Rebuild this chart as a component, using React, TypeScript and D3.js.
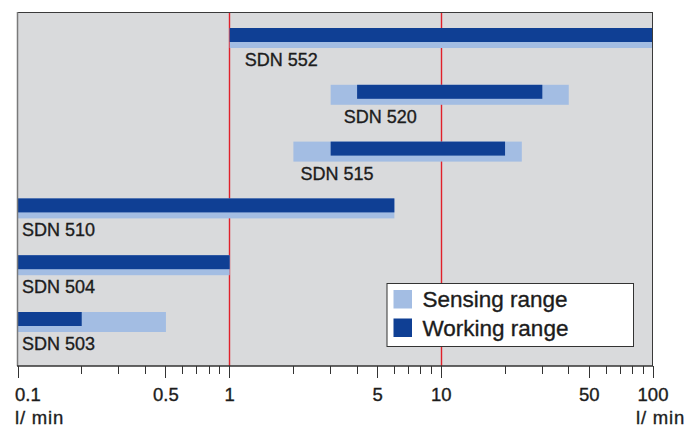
import React from 'react';
import * as d3 from 'd3';

// flow ranges per sensor model, l/min
const models = ['SDN 552', 'SDN 520', 'SDN 515', 'SDN 510', 'SDN 504', 'SDN 503'];
const sensingMin = [1, 3, 2, 0.1, 0.1, 0.1];
const sensingMax = [100, 40, 24, 6, 1, 0.5];
const workingMin = [1, 4, 3, 0.1, 0.1, 0.1];
const workingMax = [100, 30, 20, 6, 1, 0.2];

const tickLabels = [0.1, 0.5, 1, 5, 10, 50, 100];
const refLines = [1, 10];
const unitLabel = 'l/ min';
const legendItems = ['Sensing range', 'Working range'];

const W = 700;
const H = 428;
const left = 18;
const right = 653;
const top = 12;
const bottom = 366;

const LIGHT = '#a3bde3';
const DARK = '#0f3f94';
const INK = '#1c1c1c';
const FONT = '"Liberation Sans", Arial, Helvetica, sans-serif';

// label start offset from the bar's left edge
const labelShift = [15, 13, 7, 4, 4, 4];

// snap a thin vertical line onto a pixel column
const px = (v: number) => Math.floor(v) + 0.5;

export default function App() {
  const x = d3.scaleLog().domain([0.1, 100]).range([left, right]);
  const y = d3.scalePoint<string>().domain(models).range([28, 312]);
  const ticks = x.ticks();
  const isMajor = (v: number) => {
    const lead = Math.round(v / Math.pow(10, Math.floor(Math.log10(v) + 1e-9)));
    return lead === 1 || lead === 5;
  };

  return (
    <svg width={W} height={H} style={{ position: 'absolute', left: 0, top: 0, background: '#fff' }}
      fontFamily={FONT}>
      <rect x={left} y={top} width={right - left} height={bottom - top} fill="#d9dadc" />

      {refLines.map((v) => (
        <line key={v} x1={px(x(v))} x2={px(x(v))} y1={top} y2={bottom} stroke="#e0202a" strokeWidth={1.4} />
      ))}

      {models.map((m, i) => {
        const yy = y(m)!;
        return (
          <g key={m}>
            <rect x={x(sensingMin[i])} y={yy} width={x(sensingMax[i]) - x(sensingMin[i])} height={20} fill={LIGHT} />
            <rect x={x(workingMin[i])} y={yy} width={x(workingMax[i]) - x(workingMin[i])} height={14} fill={DARK} />
            <text x={x(sensingMin[i]) + labelShift[i]} y={yy + 38} fontSize={18} fill={INK}
              stroke={INK} strokeWidth={0.35}>{m}</text>
          </g>
        );
      })}

      <line x1={left} x2={right} y1={top + 0.5} y2={top + 0.5} stroke="#3a3a3a" strokeWidth={1} />
      <line x1={left - 0.5} x2={left - 0.5} y1={top} y2={bottom} stroke="#7a7a7a" strokeWidth={1.5} />
      <line x1={right - 0.5} x2={right - 0.5} y1={top} y2={bottom} stroke="#3a3a3a" strokeWidth={1} />
      <line x1={left - 1} x2={right} y1={bottom} y2={bottom} stroke="#333" strokeWidth={1.3} />

      {ticks.map((v, i) => (
        <line key={i} x1={px(x(v))} x2={px(x(v))} y1={bottom} y2={bottom + (isMajor(v) ? 12 : 8)}
          stroke="#333" strokeWidth={1} />
      ))}
      {tickLabels.map((v, i) => (
        <text key={v} x={i === 0 ? x(v) - 3 : x(v)} y={401} fontSize={18.5}
          textAnchor={i === 0 ? 'start' : 'middle'} fill={INK} stroke={INK} strokeWidth={0.35}>
          {String(v)}
        </text>
      ))}
      <text x={15} y={424} fontSize={18.5} letterSpacing={0.8} fill={INK} stroke={INK} strokeWidth={0.35}>{unitLabel}</text>
      <text x={685} y={424} fontSize={18.5} letterSpacing={0.8} textAnchor="end" fill={INK} stroke={INK}
        strokeWidth={0.35}>{unitLabel}</text>

      <g>
        <rect x={387} y={283.5} width={246.5} height={63} fill="#fff" stroke="#333" strokeWidth={1} />
        {legendItems.map((t, i) => (
          <g key={t}>
            <rect x={393.5} y={290 + i * 28.5} width={18.5} height={18.5} fill={i === 0 ? LIGHT : DARK} />
            <text x={422.5} y={307 + i * 29} fontSize={22.5} fill={INK} stroke={INK} strokeWidth={0.35}>{t}</text>
          </g>
        ))}
      </g>
    </svg>
  );
}
